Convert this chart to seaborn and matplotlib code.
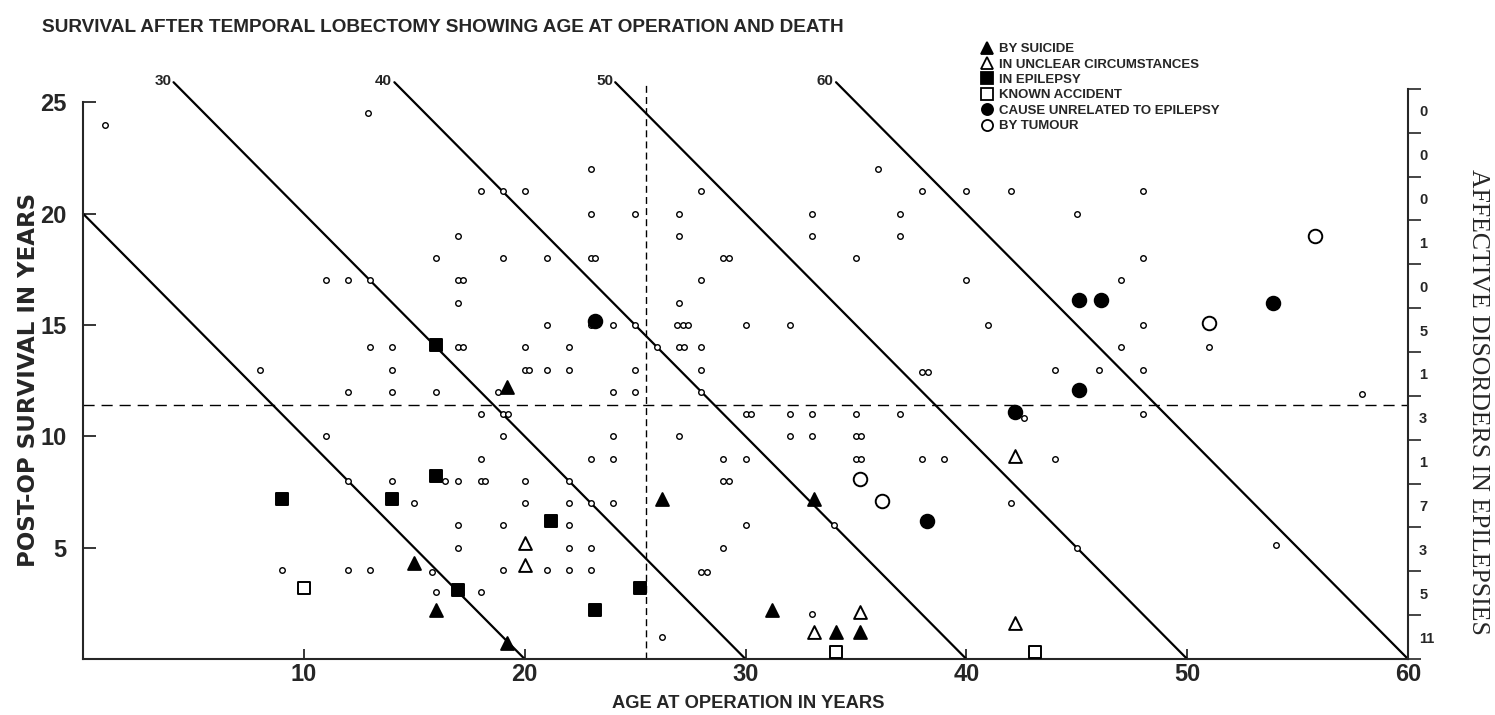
import numpy as np
import pandas as pd
import matplotlib
matplotlib.use("Agg")
import matplotlib.pyplot as plt
from matplotlib import font_manager
import seaborn as sns

# ---------------- data ----------------
surv_x = [1, 12.9, 16, 11, 12, 13, 17, 17.2, 13, 14, 14, 8, 17, 17.2,
          23, 18, 19, 20, 23, 25, 27, 28, 33, 33, 17, 19, 21, 23, 23.2, 27, 29, 29.25, 28, 17, 27,
          21, 23, 24, 25, 26.9, 27.15, 27.4, 30, 32, 20, 22, 26, 27, 27.2, 28, 20, 20.2, 21, 22, 25, 28,
          36, 38, 40, 42, 48, 37, 45, 37, 35, 48, 40, 47, 41, 48, 51, 47, 38, 38.25, 44, 46, 48,
          12, 14, 16, 11, 12, 14, 16.4, 17, 18, 18.2, 15, 9, 12, 13, 15.8, 16,
          18.8, 24, 25, 28, 18, 19, 19.25, 30, 30.25, 32, 33, 19, 24, 27, 32, 33, 18, 23, 24, 29, 30,
          20, 22, 29, 29.25, 20, 22, 23, 24, 34, 17, 19, 22, 30, 17, 22, 23, 29, 19, 21, 22, 23,
          28, 28.25, 18, 26.2, 33,
          35, 37, 42.6, 48, 35, 35.25, 35, 35.25, 38, 39, 44, 42, 45,
          57.9, 54]
surv_y = [24, 24.5, 18, 17, 17, 17, 17, 17, 14, 14, 13, 13, 14, 14,
          22, 21, 21, 21, 20, 20, 20, 21, 20, 19, 19, 18, 18, 18, 18, 19, 18, 18, 17, 16, 16,
          15, 15, 15, 15, 15, 15, 15, 15, 15, 14, 14, 14, 14, 14, 14, 13, 13, 13, 13, 13, 13,
          22, 21, 21, 21, 21, 20, 20, 19, 18, 18, 17, 17, 15, 15, 14, 14, 12.9, 12.9, 13, 13, 13,
          12, 12, 12, 10, 8, 8, 8, 8, 8, 8, 7, 4, 4, 4, 3.9, 3,
          12, 12, 12, 12, 11, 11, 11, 11, 11, 11, 11, 10, 10, 10, 10, 10, 9, 9, 9, 9, 9,
          8, 8, 8, 8, 7, 7, 7, 7, 6, 6, 6, 6, 6, 5, 5, 5, 5, 4, 4, 4, 4,
          3.9, 3.9, 3, 1, 2,
          11, 11, 10.8, 11, 10, 10, 9, 9, 9, 9, 9, 7, 5,
          11.9, 5.1]

suicide_x = [15, 16, 19.2, 26.2, 33.1, 19.2, 31.2, 34.1, 35.2]
suicide_y = [4.3, 2.2, 12.2, 7.2, 7.2, 0.7, 2.2, 1.2, 1.2]
unclear_x = [20, 20, 33.1, 35.2, 42.2, 42.2]
unclear_y = [5.2, 4.2, 1.2, 2.1, 9.1, 1.6]
epilepsy_x = [16, 16, 9, 14, 17, 21.2, 25.2, 23.2]
epilepsy_y = [14.1, 8.2, 7.2, 7.2, 3.1, 6.2, 3.2, 2.2]
accident_x = [10, 34.1, 43.1]
accident_y = [3.2, 0.3, 0.3]
unrelated_x = [23.2, 45.1, 46.1, 45.1, 42.2, 38.2, 53.9]
unrelated_y = [15.2, 16.1, 16.1, 12.1, 11.1, 6.2, 16.0]
tumour_x = [51, 35.2, 36.2, 55.8]
tumour_y = [15.1, 8.1, 7.1, 19.0]

age_lines = [20, 30, 40, 50, 60]
age_labels = ["", "30", "40", "50", "60"]
affective_counts = [0, 0, 0, 1, 0, 5, 1, 3, 1, 7, 3, 5, 11]   # top to bottom
x_ticks = [10, 20, 30, 40, 50, 60]
y_ticks = [5, 10, 15, 20, 25]
median_age = 25.5
median_survival = 11.4

legend_labels = ["BY SUICIDE", "IN UNCLEAR CIRCUMSTANCES", "IN EPILEPSY",
                 "KNOWN ACCIDENT", "CAUSE UNRELATED TO EPILEPSY", "BY TUMOUR"]

# ---------------- style ----------------
sns.set_style("ticks")
names = {f.name for f in font_manager.fontManager.ttflist}
NARROW = "Liberation Sans Narrow" if "Liberation Sans Narrow" in names else "Liberation Sans"
plt.rcParams["font.family"] = [NARROW, "DejaVu Sans"]

fig = plt.figure(figsize=(14.95, 7.15), dpi=100)
L, R, B, T = 83 / 1495, 1408 / 1495, 1 - 659 / 715, 1 - 80 / 715
ax = fig.add_axes([L, B, R - L, T - B])
ax.set_xlim(0, 60)
ax.set_ylim(0, 26)

# reference lines: age at death
top_y = 25.9
for a, lab in zip(age_lines, age_labels):
    if a - top_y < 0:
        xs, ys = [0, a], [a, 0]
    else:
        xs, ys = [a - top_y, a], [top_y, 0]
    ax.plot(xs, ys, color="black", lw=1.6, zorder=2, clip_on=False)
    if lab:
        ax.text(a - top_y - 0.1, top_y + 0.05, lab, ha="right", va="center",
                fontsize=11, fontweight="bold", clip_on=False)

ax.plot([median_age, median_age], [0, 25.8], color="black", lw=1.0,
        ls=(0, (5, 3)), zorder=1, clip_on=False)
ax.plot([0, 60], [median_survival, median_survival], color="black", lw=1.0,
        ls=(0, (8, 5)), zorder=1, clip_on=False)

# survivors
sns.scatterplot(x=surv_x, y=surv_y, ax=ax, marker="o", s=16, facecolor="white",
                edgecolor="black", linewidth=1.0, zorder=4, clip_on=False)

handles = []
specs = [
    (suicide_x, suicide_y, "^", "black", 85),
    (unclear_x, unclear_y, "^", "white", 85),
    (epilepsy_x, epilepsy_y, "s", "black", 70),
    (accident_x, accident_y, "s", "white", 70),
    (unrelated_x, unrelated_y, "o", "black", 95),
    (tumour_x, tumour_y, "o", "white", 95),
]
for (xs, ys, m, fc, s), lab in zip(specs, legend_labels):
    sns.scatterplot(x=xs, y=ys, ax=ax, marker=m, s=s, facecolor=fc, edgecolor="black",
                    linewidth=1.4, zorder=5, clip_on=False)
    handles.append(plt.Line2D([], [], ls="none", marker=m, markersize=8,
                              markerfacecolor=fc, markeredgecolor="black",
                              markeredgewidth=1.3, label=lab))

# axes styling
for sp in ["top", "right"]:
    ax.spines[sp].set_visible(False)
ax.spines["left"].set_bounds(0, 25)
for sp in ["left", "bottom"]:
    ax.spines[sp].set_linewidth(1.5)
ax.set_xticks(x_ticks)
ax.set_yticks(y_ticks)
ax.tick_params(axis="both", direction="in", length=9, width=1.3, labelsize=17)
ax.tick_params(axis="x", length=7, pad=3)
ax.tick_params(axis="y", pad=12)
for lbl in ax.get_xticklabels() + ax.get_yticklabels():
    lbl.set_fontweight("bold")
ax.set_xlabel("")
ax.set_ylabel("")

# right axis with affective disorders counts
ax2 = ax.twinx()
ax2.set_ylim(0, 26)
n = len(affective_counts)
right_top = 25.6
bounds = np.linspace(0, right_top, n + 1)
centers = (bounds[:-1] + bounds[1:]) / 2
for sp in ["top", "left", "bottom"]:
    ax2.spines[sp].set_visible(False)
ax2.spines["right"].set_bounds(0, right_top)
ax2.spines["right"].set_linewidth(1.5)
ax2.set_yticks(bounds)
ax2.set_yticklabels([])
ax2.tick_params(axis="y", which="major", direction="out", length=9, width=1.2)
ax2.set_yticks(centers[::-1], minor=True)
ax2.set_yticklabels([str(c) for c in affective_counts], minor=True,
                    fontsize=10.5, fontweight="bold")
ax2.tick_params(axis="y", which="minor", length=0, pad=8)

# texts
fig.text(42 / 1495, 1 - 28 / 715,
         "SURVIVAL AFTER TEMPORAL LOBECTOMY SHOWING AGE AT OPERATION AND DEATH",
         ha="left", va="center", fontsize=13.7, fontweight="bold")
fig.text(748 / 1495, 1 - 704 / 715, "AGE AT OPERATION IN YEARS",
         ha="center", va="center", fontsize=13.2, fontweight="bold")
fig.text(29 / 1495, 1 - 380 / 715, "POST-OP SURVIVAL IN YEARS", rotation=90,
         ha="center", va="center", fontsize=16.5, fontweight="bold",
         family=["DejaVu Sans"])
fig.text(1478 / 1495, 1 - 402 / 715, "AFFECTIVE DISORDERS IN EPILEPSIES", rotation=-90,
         ha="center", va="center", fontsize=18.5,
         family=["Liberation Serif", "DejaVu Serif"])

leg = ax.legend(handles=handles, loc="upper left", bbox_to_anchor=(980 / 1495, 1 - 43 / 715),
                bbox_transform=fig.transFigure, frameon=False, borderaxespad=0, borderpad=0,
                handlelength=1.0, handletextpad=0.45, labelspacing=0.24,
                prop={"weight": "bold", "size": 9.5})

fig.savefig("out.png", dpi=100)
